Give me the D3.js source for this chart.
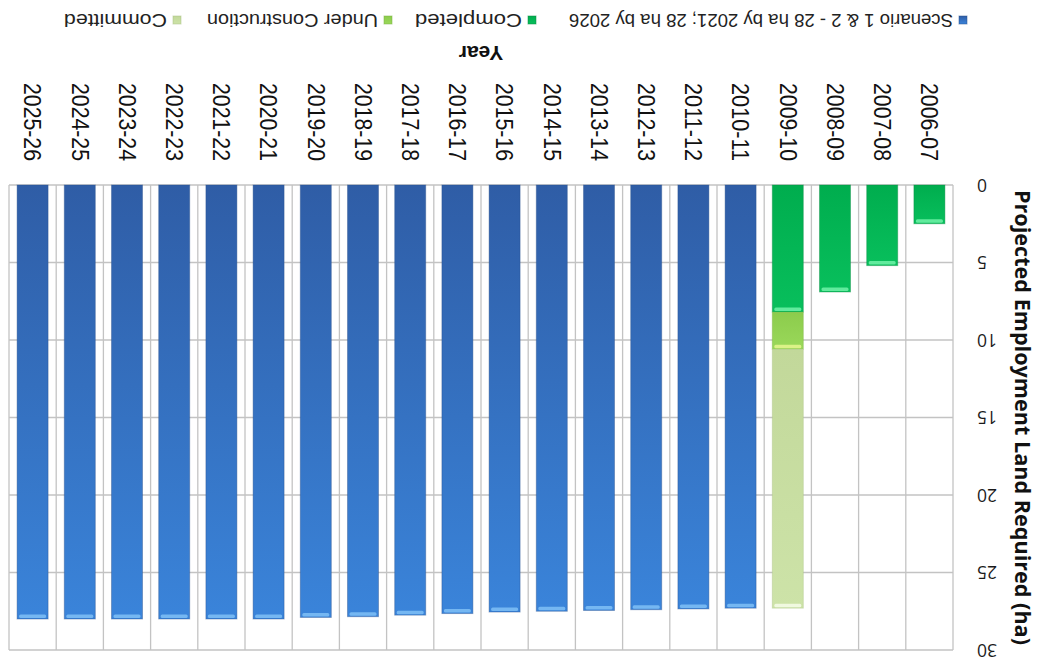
<!DOCTYPE html>
<html>
<head>
  <title>Projected Employment Land Required</title>
  <style>
    body { margin: 0; background: #ffffff; }
    svg { display: block; background-color: #ffffff; }
  </style>
</head>
<body>
  <div id="chart"></div>

  <script src="https://d3js.org/d3.v7.min.js"></script>
  <script>
    // Financial years on the category axis
    var years = ["2006-07", "2007-08", "2008-09", "2009-10", "2010-11", "2011-12", "2012-13",
      "2013-14", "2014-15", "2015-16", "2016-17", "2017-18", "2018-19", "2019-20",
      "2020-21", "2021-22", "2022-23", "2023-24", "2024-25", "2025-26"];

    // Stacked series (ha)
    var completed = [2.5, 5.2, 6.9, 8.2, 0, 0, 0, 0, 0, 0, 0, 0, 0, 0, 0, 0, 0, 0, 0, 0];
    var underConstruction = [0, 0, 0, 2.4, 0, 0, 0, 0, 0, 0, 0, 0, 0, 0, 0, 0, 0, 0, 0, 0];
    var committed = [0, 0, 0, 16.7, 0, 0, 0, 0, 0, 0, 0, 0, 0, 0, 0, 0, 0, 0, 0, 0];
    var scenario = [0, 0, 0, 0, 27.3, 27.35, 27.4, 27.45, 27.5, 27.55, 27.65, 27.75, 27.85, 27.9,
      28, 28, 28, 28, 28, 28];

    var yTicks = [0, 5, 10, 15, 20, 25, 30];

    var seriesNames = ["Scenario 1 & 2 - 28 ha by 2021; 28 ha by 2026", "Completed",
      "Under Construction", "Committed"];

    var width = 1049, height = 664;
    var margin = { left: 96, right: 9, top: 14, bottom: 185 };

    var svg = d3.select("#chart").append("svg")
      .attr("width", width)
      .attr("height", height);

    // gradients for the bevelled bars
    var defs = svg.append("defs");
    var looks = {
      scenario: { id: "gScen", top: "#3a84da", bottom: "#2f5da6", cap: "#7cbcf4", edge: "#2a4f8c" },
      completed: { id: "gComp", top: "#08bf5c", bottom: "#00ad4e", cap: "#6cf0a4", edge: "#0a8a40" },
      underConstruction: { id: "gUC", top: "#9ad85a", bottom: "#8ccc4c", cap: "#e2f58c", edge: "#7ab040" },
      committed: { id: "gCom", top: "#cde3a8", bottom: "#c2d89a", cap: "#f4fbe6", edge: "#a9c184" }
    };
    Object.keys(looks).forEach(function (k) {
      var l = looks[k];
      var g = defs.append("linearGradient").attr("id", l.id)
        .attr("x1", 0).attr("y1", 0).attr("x2", 0).attr("y2", 1);
      g.append("stop").attr("offset", "0%").attr("stop-color", l.top);
      g.append("stop").attr("offset", "100%").attr("stop-color", l.bottom);
    });

    // whole chart is drawn upside down, like the source picture
    var root = svg.append("g")
      .attr("transform", "rotate(180," + width / 2 + "," + height / 2 + ")");

    var x = d3.scaleBand()
      .domain(years)
      .range([margin.left, width - margin.right])
      .paddingInner(0.343)
      .paddingOuter(0.1715);

    var y = d3.scaleLinear()
      .domain([0, 30])
      .range([height - margin.bottom, margin.top]);

    var plotL = margin.left, plotR = width - margin.right;
    var plotT = margin.top, plotB = height - margin.bottom;

    // gridlines
    var grid = root.append("g").attr("stroke", "#c3c3c3").attr("stroke-width", 1.3);
    grid.selectAll("line.h").data(yTicks).enter().append("line")
      .attr("x1", plotL).attr("x2", plotR)
      .attr("y1", function (d) { return y(d); })
      .attr("y2", function (d) { return y(d); });
    grid.selectAll("line.v").data(d3.range(years.length + 1)).enter().append("line")
      .attr("x1", function (i) { return plotL + i * x.step(); })
      .attr("x2", function (i) { return plotL + i * x.step(); })
      .attr("y1", plotT).attr("y2", plotB);

    // stack the series
    var rows = years.map(function (yr, i) {
      return { year: yr, completed: completed[i], underConstruction: underConstruction[i],
        committed: committed[i], scenario: scenario[i] };
    });
    var keys = ["completed", "underConstruction", "committed", "scenario"];
    var stacked = d3.stack().keys(keys)(rows);

    stacked.forEach(function (layer) {
      var l = looks[layer.key];
      var g = root.append("g");
      var segs = layer.filter(function (d) { return d[1] - d[0] > 0; });
      g.selectAll("rect.bar").data(segs).enter().append("rect")
        .attr("x", function (d) { return x(d.data.year); })
        .attr("width", x.bandwidth())
        .attr("y", function (d) { return y(d[1]); })
        .attr("height", function (d) { return y(d[0]) - y(d[1]); })
        .attr("fill", "url(#" + l.id + ")")
        .attr("stroke", l.edge)
        .attr("stroke-opacity", 0.4)
        .attr("stroke-width", 1);
      // light cap on the end of each segment
      g.selectAll("rect.cap").data(segs).enter().append("rect")
        .attr("x", function (d) { return x(d.data.year) + 2; })
        .attr("width", x.bandwidth() - 4)
        .attr("y", function (d) { return y(d[1]) + 1; })
        .attr("height", 3.5)
        .attr("rx", 1.5)
        .attr("fill", l.cap)
        .attr("opacity", 0.9);
    });

    // y tick labels
    root.append("g").selectAll("text").data(yTicks).enter().append("text")
      .attr("x", 72)
      .attr("y", function (d) { return y(d); })
      .attr("dy", "0.36em")
      .attr("text-anchor", "end")
      .attr("font-family", "Open Sans, sans-serif")
      .attr("font-size", 17.5)
      .attr("fill", "#1a1a1a")
      .text(function (d) { return d; });

    // x tick labels, vertical
    root.append("g").selectAll("text").data(years).enter().append("text")
      .attr("transform", function (d) {
        return "translate(" + (x(d) + x.bandwidth() / 2) + "," + (plotB + 24) + ") rotate(-90)";
      })
      .attr("dy", "0.36em")
      .attr("text-anchor", "end")
      .attr("font-family", "Liberation Sans, Arial, sans-serif")
      .attr("font-size", 23)
      .attr("textLength", 78)
      .attr("lengthAdjust", "spacingAndGlyphs")
      .attr("fill", "#111")
      .text(function (d) { return d; });

    // axis titles
    root.append("text")
      .attr("transform", "translate(27," + (plotT + plotB) / 2 + ") rotate(-90)")
      .attr("dy", "0.35em")
      .attr("text-anchor", "middle")
      .attr("font-family", "Open Sans, sans-serif")
      .attr("font-weight", "bold")
      .attr("font-size", 21)
      .attr("textLength", 455)
      .attr("lengthAdjust", "spacingAndGlyphs")
      .attr("fill", "#111")
      .text("Projected Employment Land Required (ha)");

    root.append("text")
      .attr("x", (plotL + plotR) / 2)
      .attr("y", 611)
      .attr("dy", "0.35em")
      .attr("text-anchor", "middle")
      .attr("font-family", "Liberation Sans, Arial, sans-serif")
      .attr("font-weight", "bold")
      .attr("font-size", 21)
      .attr("fill", "#111")
      .text("Year");

    // legend
    var legendX = [82, 513, 657, 868];
    var legendW = [384, 107, 171, 103];
    var legendLooks = [looks.scenario, looks.completed, looks.underConstruction, looks.committed];
    var leg = root.append("g").selectAll("g").data(seriesNames).enter().append("g")
      .attr("transform", function (d, i) { return "translate(" + legendX[i] + ",644)"; });
    leg.append("rect")
      .attr("x", 0).attr("y", -4).attr("width", 8).attr("height", 8)
      .attr("fill", function (d, i) { return "url(#" + legendLooks[i].id + ")"; })
      .attr("stroke", function (d, i) { return legendLooks[i].edge; })
      .attr("stroke-opacity", 0.5);
    leg.append("text")
      .attr("x", 14)
      .attr("dy", "0.35em")
      .attr("font-family", "Liberation Sans, Arial, sans-serif")
      .attr("font-size", 18)
      .attr("textLength", function (d, i) { return legendW[i]; })
      .attr("lengthAdjust", "spacingAndGlyphs")
      .attr("fill", "#222")
      .text(function (d) { return d; });
  </script>
</body>
</html>
